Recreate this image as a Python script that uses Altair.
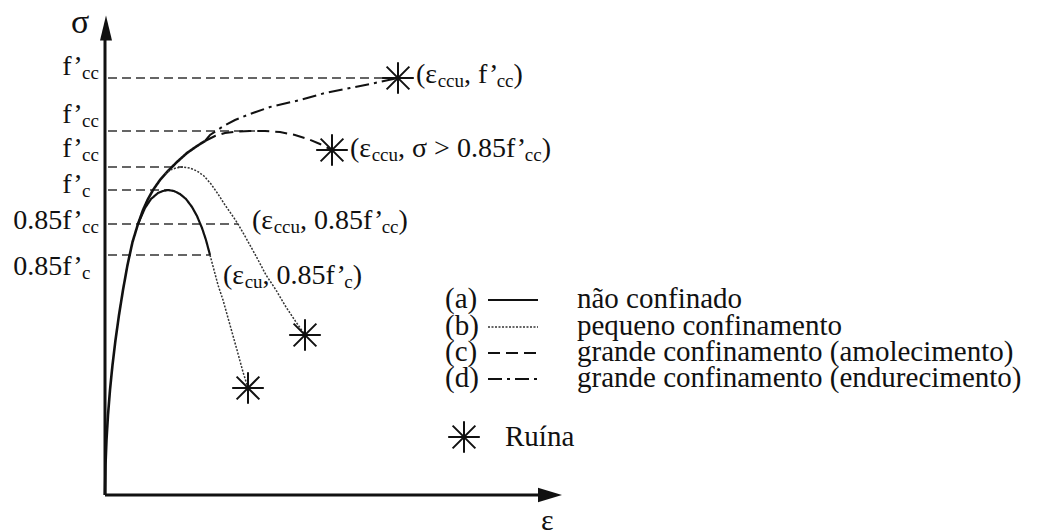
import altair as alt
import pandas as pd

# Schematic stress-strain curves for confined concrete (drawing units,
# origin at the corner of the axes: eps to the right, sig upwards).

# common ascending branch shared by all curves
ENV_EPS = [0, 0.5, 1.5, 3, 5, 7.5, 10.5, 14, 18, 22.5, 27.5, 33, 38, 43, 48, 55, 63, 72, 82, 92, 100]
ENV_SIG = [0, 30, 55, 80, 105, 130, 155, 180, 205, 230, 253, 271, 285, 296, 305, 315, 324, 333, 342, 349, 354]

# (a) unconfined
A_EPS = [33, 40, 46, 53, 58, 63, 69, 75, 81, 87, 92, 97, 101, 105]
A_SIG = [271, 287, 296, 302, 304, 305, 304, 301, 296, 288, 279, 267, 255, 240]
A_TAIL_EPS = [105, 109, 113, 118, 125, 132, 138, 143]
A_TAIL_SIG = [240, 225, 210, 195, 170, 145, 123, 107]

# (b) small confinement
B_EPS = [60, 65, 71, 78, 85, 92, 99, 106, 113, 120, 127, 133, 141, 151, 161, 171, 181, 191, 200]
B_SIG = [321, 325, 327, 328, 327, 324, 319, 311, 301, 290, 280, 271, 257, 239, 220, 205, 188, 173, 160]

# (c) large confinement, softening
C_EPS = [100, 110, 120, 132, 145, 160, 175, 190, 203, 215, 227]
C_SIG = [354, 359, 362, 363.5, 364, 364, 363, 360, 356, 351, 345]

# (d) large confinement, hardening
D_EPS = [100, 105, 117, 130, 145, 165, 195, 220, 245, 270, 293]
D_SIG = [354, 360, 368, 375, 381, 388, 395, 402, 407, 412, 417]

# failure points (a, b, c, d)
RUIN_EPS = [143, 200, 227, 293]
RUIN_SIG = [107, 160, 345, 417]

# reference stress levels
LEVEL_SIG = [417, 364, 328, 305, 271, 240]
LEVEL_END = [293, 150, 78, 63, 133, 105]
LEVEL_MAIN = ["f’", "f’", "f’", "f’", "0.85f’", "0.85f’"]
LEVEL_SUB = ["cc", "cc", "cc", "c", "cc", "c"]
LEVEL_BASE = [420, 372, 338, 302, 266, 220]

# point annotations: start, baseline, runs (m = normal, s = subscript)
ANN_EPS = [311, 245, 147, 118]
ANN_SIG = [412, 338, 266, 211]
ANN_RUNS = [
    [("(ε", "m"), ("ccu", "s"), (", f’", "m"), ("cc", "s"), (")", "m")],
    [("(ε", "m"), ("ccu", "s"), (", σ > 0.85f’", "m"), ("cc", "s"), (")", "m")],
    [("(ε", "m"), ("ccu", "s"), (", 0.85f’", "m"), ("cc", "s"), (")", "m")],
    [("(ε", "m"), ("cu", "s"), (", 0.85f’", "m"), ("c", "s"), (" )", "m")],
]

# legend
LEG_KEYS = ["(a)", "(b)", "(c)", "(d)"]
LEG_TEXT = ["não confinado", "pequeno confinamento",
            "grande confinamento (amolecimento)", "grande confinamento (endurecimento)"]
LEG_STYLE = ["solid", "dotted", "dashed", "dashdot"]
LEG_SIG = [196, 169, 143, 117]
RUIN_LABEL = "Ruína"
RUIN_LEG_SIG = 58

FONT = "Liberation Serif"
MAIN = 28
SUB = 19
LEG_FS = 29

STYLES = {
    "solid": dict(strokeDash=[1, 0], strokeWidth=2.2, color="#111"),
    "dotted": dict(strokeDash=[2, 1.5], strokeWidth=1.5, color="#333"),
    "dashed": dict(strokeDash=[12, 6], strokeWidth=2.0, color="#111"),
    "dashdot": dict(strokeDash=[14, 5, 3, 5], strokeWidth=2.0, color="#111"),
    "envelope": dict(strokeDash=[1, 0], strokeWidth=2.6, color="#111"),
}

# Times-metric advance widths (1/1000 em) for laying out text runs
ADV = {" ": 250, "(": 333, ")": 333, ",": 250, ".": 250, ">": 564, "’": 333,
       "a": 444, "c": 444, "e": 444, "f": 333, "u": 500, "σ": 550, "ε": 440}


def width(s, size):
    return sum(ADV.get(ch, 500) for ch in s) / 1000 * size


xs = alt.Scale(domain=[-105, 942], range=[0, 1047])
ys = alt.Scale(domain=[-37, 495], range=[532, 0])


def X(f):
    return alt.X(f, type="quantitative", scale=xs, axis=None)


def Y(f):
    return alt.Y(f, type="quantitative", scale=ys, axis=None)


def curve(eps, sig, style):
    df = pd.DataFrame({"eps": eps, "sig": sig, "i": range(len(eps))})
    return alt.Chart(df).mark_line(**STYLES[style]).encode(
        x=X("eps"), y=Y("sig"), order="i:Q")


layers = []

# axes
axes = pd.DataFrame({"x0": [0, 0], "x1": [0, 435], "y0": [0, 0], "y1": [460, 0]})
layers.append(alt.Chart(axes).mark_rule(strokeWidth=3, color="#111").encode(
    x=X("x0"), x2="x1", y=Y("y0"), y2="y1"))
heads = pd.DataFrame({"eps": [1, 445], "sig": [467, 0],
                      "shape": ["M0,-1L0.48,1L-0.48,1Z", "M1,0L-1,0.6L-1,-0.6Z"],
                      "s": [625, 576]})
for _, h in heads.iterrows():
    layers.append(alt.Chart(pd.DataFrame([h])).mark_point(
        shape=h["shape"], filled=True, color="#111", opacity=1, size=h["s"]).encode(
        x=X("eps"), y=Y("sig")))

# reference stress levels
levels = pd.DataFrame({"x0": [3] * len(LEVEL_SIG), "x1": LEVEL_END, "sig": LEVEL_SIG})
layers.append(alt.Chart(levels).mark_rule(strokeDash=[9, 5], strokeWidth=1.4, color="#333").encode(
    x=X("x0"), x2="x1", y=Y("sig")))

# curves
layers.append(curve(ENV_EPS, ENV_SIG, "envelope"))
layers.append(curve(A_EPS, A_SIG, "solid"))
layers.append(curve(A_TAIL_EPS, A_TAIL_SIG, "dotted"))
layers.append(curve(B_EPS, B_SIG, "dotted"))
layers.append(curve(C_EPS, C_SIG, "dashed"))
layers.append(curve(D_EPS, D_SIG, "dashdot"))

# legend sample lines
for k, st in enumerate(LEG_STYLE):
    layers.append(curve([383, 433], [LEG_SIG[k] - 1, LEG_SIG[k] - 1], st))

# failure stars
STAR = "M-1,0L1,0M0,-1L0,1M-0.72,-0.72L0.72,0.72M-0.72,0.72L0.72,-0.72"
stars = pd.DataFrame({"eps": RUIN_EPS + [359], "sig": RUIN_SIG + [RUIN_LEG_SIG]})
layers.append(alt.Chart(stars).mark_point(
    shape=STAR, filled=False, color="#111", strokeWidth=2, size=1000, opacity=1).encode(
    x=X("eps"), y=Y("sig")))

# text runs
rows = []
for m, s, b in zip(LEVEL_MAIN, LEVEL_SUB, LEVEL_BASE):
    end = -24
    rows.append(dict(eps=end - width(m, MAIN), sig=b, t=m, fs=MAIN))
    rows.append(dict(eps=end + 1, sig=b - 4, t=s, fs=SUB))
for x0, b, runs in zip(ANN_EPS, ANN_SIG, ANN_RUNS):
    x = x0
    for t, kind in runs:
        fs = MAIN if kind == "m" else SUB
        rows.append(dict(eps=x, sig=b if kind == "m" else b - 4, t=t, fs=fs))
        x += width(t, fs)
rows.append(dict(eps=-34, sig=462, t="σ", fs=34))
rows.append(dict(eps=436, sig=-35, t="ε", fs=30))
txt = pd.DataFrame(rows)
layers.append(alt.Chart(txt).mark_text(align="left", baseline="alphabetic", font=FONT, color="#111").encode(
    x=X("eps"), y=Y("sig"), text="t:N", size=alt.Size("fs:Q", scale=None)))

leg = pd.DataFrame({
    "eps": [340] * 4 + [472] * 4 + [400],
    "sig": LEG_SIG + LEG_SIG + [RUIN_LEG_SIG],
    "t": LEG_KEYS + LEG_TEXT + [RUIN_LABEL],
})
layers.append(alt.Chart(leg).mark_text(align="left", baseline="middle", font=FONT,
                                       fontSize=LEG_FS, color="#111").encode(
    x=X("eps"), y=Y("sig"), text="t:N"))

chart = alt.layer(*layers).properties(
    width=1047, height=532, padding=0,
    autosize=alt.AutoSizeParams(type="none"),
    background="white",
).configure_view(stroke=None)

chart.save("out.html", embed_options={"renderer": "svg", "actions": False})
